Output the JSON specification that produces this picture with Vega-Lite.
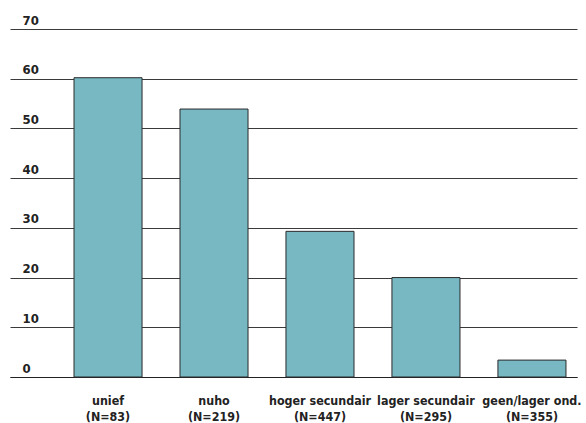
{
  "$schema": "https://vega.github.io/schema/vega-lite/v6.json",
  "width": 567,
  "height": 348,
  "autosize": {"type": "none"},
  "padding": {"left": 10, "top": 29, "right": 9, "bottom": 46},
  "background": "white",
  "data": {
    "values": [
      {"label": "unief\n(N=83)", "value": 60.2},
      {"label": "nuho\n(N=219)", "value": 53.9},
      {"label": "hoger secundair\n(N=447)", "value": 29.3},
      {"label": "lager secundair\n(N=295)", "value": 20.0},
      {"label": "geen/lager ond.\n(N=355)", "value": 3.4}
    ]
  },
  "config": {
    "view": {"stroke": null},
    "font": "DejaVu Sans Condensed"
  },
  "mark": {"type": "bar", "fill": "#77b8c3", "stroke": "#2a2a2a", "strokeWidth": 1},
  "encoding": {
    "x": {
      "field": "label",
      "type": "nominal",
      "sort": null,
      "scale": {"paddingInner": 0.358, "paddingOuter": 0.354, "align": 0.853},
      "axis": {
        "title": null,
        "labelAngle": 0,
        "labelExpr": "split(datum.label, '\\n')",
        "labelFont": "DejaVu Sans Condensed",
        "labelFontSize": 12.4,
        "labelFontWeight": "bold",
        "labelColor": "#222",
        "labelLineHeight": 16,
        "labelBaseline": "top",
        "labelPadding": 17,
        "labelOverlap": false,
        "ticks": false,
        "tickSize": 0,
        "domainColor": "#222",
        "domainWidth": 1.2
      }
    },
    "y": {
      "field": "value",
      "type": "quantitative",
      "scale": {"domain": [0, 70], "nice": false},
      "axis": {
        "title": null,
        "values": [0, 10, 20, 30, 40, 50, 60, 70],
        "domain": false,
        "ticks": false,
        "tickSize": 0,
        "grid": true,
        "gridColor": "#3a3a3a",
        "gridWidth": 1,
        "labelAlign": "left",
        "labelBaseline": "alphabetic",
        "labelPadding": -12,
        "labelOffset": -5,
        "labelFont": "DejaVu Sans Condensed",
        "labelFontSize": 13,
        "labelFontWeight": "bold",
        "labelColor": "#222"
      }
    }
  }
}
